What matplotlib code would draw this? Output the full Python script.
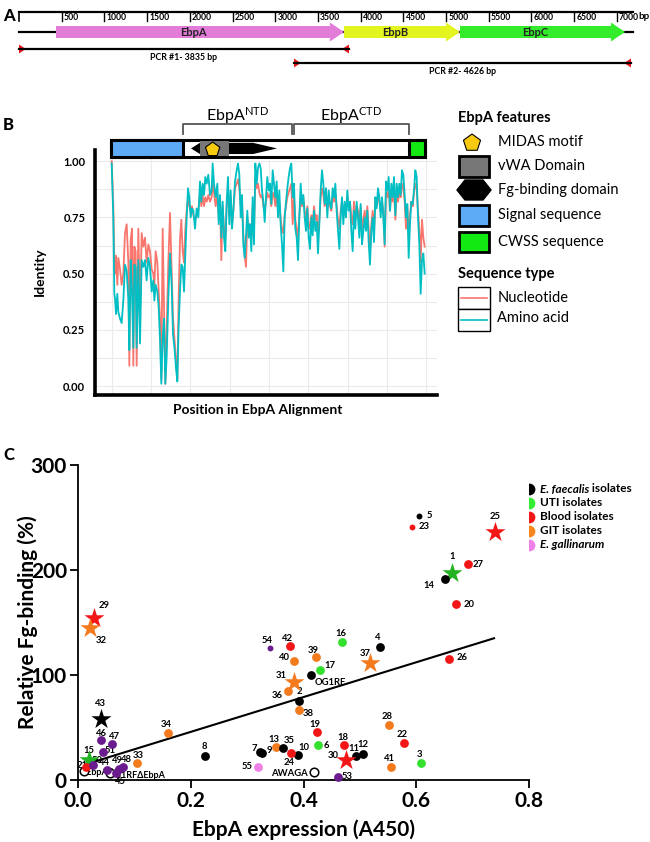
import numpy as np
import matplotlib.pyplot as plt
from matplotlib.patches import Polygon, Rectangle

plt.rcParams['font.family'] = ['Lato', 'DejaVu Sans']
plt.rcParams['mathtext.default'] = 'regular'

W, H = 650, 842

# ---------------- panel A: ebp locus (bp) ----------------
ruler_ticks = [500, 1000, 1500, 2000, 2500, 3000, 3500, 4000, 4500, 5000, 5500, 6000, 6500, 7000]
locus_end = 7190
genes = ["EbpA", "EbpB", "EbpC"]
gene_start = [433, 3806, 5164]
gene_end = [3806, 5164, 7096]
gene_colors = ["#E37BD8", "#E4F41F", "#35EC2C"]
pcr_names = ["PCR #1- 3835 bp", "PCR #2- 4626 bp"]
pcr_start = [0, 3220]
pcr_end = [3864, 7166]

# ---------------- panel B: identity along alignment ----------------
aln_pos = [
    35, 40, 43, 45, 48, 52, 55, 60, 65, 70,
    75, 80, 85, 88, 92, 96, 100, 103, 107, 110,
    115, 120, 125, 130, 135, 140, 145, 150, 155, 160,
    163, 167, 172, 176, 180, 184, 188, 192, 196, 200,
    205, 210, 215, 219, 224, 228, 232, 236, 240, 244,
    248, 252, 256, 260, 264, 268, 272, 276, 280, 285,
    290, 295, 300, 304, 308, 312, 316, 320, 325, 330,
    335, 338, 342, 347, 352, 356, 360, 364, 368, 372,
    376, 380, 384, 388, 392, 396, 400, 405, 410, 414,
    418, 422, 426, 430, 434, 438, 442, 446, 450, 454,
    458, 462, 466, 470, 474, 478, 482, 486, 490, 494,
    498, 502, 506, 510, 514, 518, 522, 526, 530, 534,
    538, 542, 546, 550, 554, 558, 562, 566, 570, 574,
    578, 582, 586, 590, 594, 598, 602, 606, 610, 614,
    618, 622, 626, 630, 634, 638, 642, 646, 650, 654,
    658, 662, 666, 670, 674, 678, 682, 686, 690, 694,
    698, 702, 706, 710, 714, 718, 722, 726, 730, 734,
    738, 742, 746, 750, 754, 758, 762, 766, 770, 774,
    778, 782, 786, 790, 794, 798, 802, 806, 810, 814,
    818, 822, 826, 830, 834, 838, 842, 846, 850, 854,
    858, 862, 866, 870, 874, 878, 882, 886, 890, 894,
    898, 902, 906, 910, 914, 918, 922, 926, 930, 934,
    938, 942, 946, 950, 954, 958, 962, 966, 970, 974,
]
aa_identity = [
    0.99, 0.75, 0.41, 0.39, 0.32, 0.41, 0.33, 0.30, 0.28, 0.38,
    0.54, 0.51, 0.39, 0.16, 0.56, 0.42, 0.17, 0.54, 0.53, 0.17,
    0.56, 0.19, 0.56, 0.53, 0.56, 0.47, 0.57, 0.53, 0.42, 0.47,
    0.38, 0.45, 0.42, 0.35, 0.21, 0.01, 0.21, 0.30, 0.01, 0.13,
    0.39, 0.59, 0.45, 0.23, 0.16, 0.08, 0.02, 0.27, 0.42, 0.54,
    0.53, 0.42, 0.59, 0.75, 0.88, 0.84, 0.75, 0.79, 0.78, 0.70,
    0.79, 0.75, 0.91, 0.82, 0.90, 0.85, 0.93, 0.90, 0.94, 0.85,
    0.87, 0.99, 0.90, 0.84, 0.90, 0.72, 0.85, 0.66, 0.82, 0.66,
    0.60, 0.82, 0.93, 0.72, 0.87, 0.70, 0.78, 0.91, 0.96, 0.99,
    0.94, 0.75, 0.85, 0.63, 0.57, 0.67, 0.78, 0.66, 0.72, 0.60,
    0.84, 0.63, 0.99, 0.90, 0.97, 0.99, 0.97, 0.87, 0.82, 0.73,
    0.84, 0.93, 0.87, 0.90, 0.81, 0.96, 0.90, 0.84, 0.91, 0.75,
    0.87, 0.72, 0.63, 0.51, 0.75, 0.82, 0.88, 0.93, 0.97, 0.99,
    0.84, 0.90, 0.70, 0.66, 0.56, 0.75, 0.90, 0.81, 0.85, 0.75,
    0.69, 0.79, 0.66, 0.61, 0.75, 0.67, 0.78, 0.69, 0.73, 0.59,
    0.72, 0.87, 0.96, 0.90, 0.81, 0.88, 0.75, 0.87, 0.81, 0.79,
    0.88, 0.84, 0.90, 0.78, 0.69, 0.61, 0.75, 0.84, 0.72, 0.82,
    0.75, 0.87, 0.78, 0.82, 0.69, 0.60, 0.78, 0.70, 0.82, 0.75,
    0.66, 0.81, 0.63, 0.69, 0.75, 0.69, 0.78, 0.64, 0.54, 0.69,
    0.75, 0.64, 0.84, 0.79, 0.88, 0.84, 0.75, 0.84, 0.75, 0.63,
    0.91, 0.87, 0.93, 0.78, 0.90, 0.84, 0.93, 0.76, 0.90, 0.84,
    0.90, 0.85, 0.96, 0.94, 0.85, 0.75, 0.81, 0.57, 0.72, 0.82,
    0.81, 0.87, 0.96, 0.93, 0.75, 0.63, 0.41, 0.56, 0.59, 0.50,
]
nt_identity = [
    1.00, 0.80, 0.55, 0.50, 0.58, 0.45, 0.57, 0.52, 0.45, 0.50,
    0.68, 0.72, 0.55, 0.09, 0.65, 0.70, 0.09, 0.62, 0.60, 0.09,
    0.70, 0.32, 0.68, 0.62, 0.66, 0.55, 0.63, 0.60, 0.52, 0.50,
    0.45, 0.60, 0.55, 0.42, 0.30, 0.03, 0.70, 0.35, 0.01, 0.25,
    0.55, 0.77, 0.50, 0.30, 0.20, 0.12, 0.03, 0.40, 0.65, 0.74,
    0.60, 0.55, 0.70, 0.78, 0.83, 0.80, 0.78, 0.80, 0.76, 0.74,
    0.76, 0.78, 0.86, 0.80, 0.85, 0.80, 0.84, 0.82, 0.85, 0.82,
    0.84, 0.90, 0.86, 0.80, 0.85, 0.76, 0.82, 0.56, 0.80, 0.70,
    0.66, 0.80, 0.86, 0.76, 0.84, 0.72, 0.78, 0.88, 0.90, 0.92,
    0.88, 0.80, 0.82, 0.68, 0.58, 0.53, 0.74, 0.70, 0.72, 0.66,
    0.80, 0.70, 0.92, 0.88, 0.90, 0.86, 0.84, 0.85, 0.80, 0.78,
    0.82, 0.86, 0.84, 0.85, 0.80, 0.86, 0.85, 0.80, 0.86, 0.78,
    0.82, 0.74, 0.70, 0.68, 0.76, 0.80, 0.84, 0.86, 0.88, 0.90,
    0.72, 0.84, 0.74, 0.70, 0.66, 0.76, 0.84, 0.80, 0.84, 0.78,
    0.74, 0.80, 0.72, 0.70, 0.76, 0.72, 0.80, 0.74, 0.76, 0.68,
    0.74, 0.84, 0.88, 0.85, 0.80, 0.84, 0.78, 0.84, 0.80, 0.78,
    0.84, 0.82, 0.86, 0.80, 0.74, 0.70, 0.78, 0.82, 0.75, 0.80,
    0.78, 0.84, 0.80, 0.82, 0.75, 0.72, 0.82, 0.74, 0.80, 0.78,
    0.72, 0.80, 0.70, 0.74, 0.78, 0.72, 0.80, 0.70, 0.60, 0.72,
    0.78, 0.68, 0.82, 0.80, 0.85, 0.82, 0.78, 0.82, 0.78, 0.62,
    0.86, 0.84, 0.88, 0.78, 0.86, 0.82, 0.88, 0.74, 0.86, 0.82,
    0.86, 0.84, 0.90, 0.88, 0.82, 0.70, 0.80, 0.66, 0.76, 0.82,
    0.80, 0.86, 0.90, 0.88, 0.78, 0.70, 0.55, 0.74, 0.66, 0.62,
]
grid_pos = [35, 153, 271, 389, 507, 625, 743, 861, 979]

# protein features, same alignment coordinates
bar_span = [32, 975]
signal_span = [32, 248]
cwss_span = [927, 975]
fg_span = [273, 531]
vwa_span = [300, 387]
midas_pos = 338
ntd_span = [248, 577]
ctd_span = [582, 927]

# ---------------- panel C: expression vs Fg binding ----------------
iso_label = ["1", "2", "3", "4", "5", "6", "7", "8", "9", "10",
             "11", "12", "13", "14", "15", "16", "17", "18", "19", "20",
             "21", "22", "23", "24", "25", "26", "27", "28", "29", "30",
             "31", "32", "33", "34", "35", "36", "37", "38", "39", "40",
             "41", "42", "43", "44", "45", "46", "47", "48", "49", "50",
             "51", "53", "54", "55", "OG1RF"]
iso_expr = [0.664, 0.392, 0.609, 0.536, 0.604, 0.425, 0.322, 0.225, 0.327, 0.391,
            0.494, 0.506, 0.352, 0.651, 0.019, 0.469, 0.429, 0.472, 0.424, 0.670,
            0.014, 0.579, 0.592, 0.378, 0.739, 0.658, 0.691, 0.551, 0.029, 0.475,
            0.383, 0.022, 0.104, 0.159, 0.364, 0.372, 0.518, 0.392, 0.423, 0.383,
            0.556, 0.376, 0.040, 0.051, 0.068, 0.040, 0.060, 0.080, 0.072, 0.027,
            0.045, 0.462, 0.341, 0.319, 0.414]
iso_fg = [197.6, 75.6, 16.5, 127.0, 251.7, 33.3, 26.3, 23.2, 26.0, 24.1,
          22.5, 24.8, 31.1, 191.4, 19.0, 131.1, 104.8, 33.3, 45.4, 167.6,
          12.7, 35.6, 241.0, 25.7, 235.9, 114.9, 205.7, 52.4, 154.0, 18.7,
          93.6, 145.0, 16.5, 45.0, 30.5, 84.8, 111.7, 66.7, 117.0, 113.6,
          12.4, 127.3, 58.1, 9.5, 6.5, 37.8, 34.3, 12.0, 10.5, 14.5,
          27.0, 2.9, 126.0, 12.4, 99.7]
iso_group = ["UTI", "Ef", "UTI", "Ef", "Ef", "UTI", "Ef", "Ef", "Ef", "Ef",
             "Ef", "Ef", "GIT", "Ef", "UTI", "UTI", "UTI", "Blood", "Blood", "Blood",
             "Blood", "Blood", "Blood", "Blood", "Blood", "Blood", "Blood", "GIT", "Blood", "Blood",
             "GIT", "GIT", "GIT", "GIT", "Ef", "GIT", "GIT", "GIT", "GIT", "GIT",
             "GIT", "Blood", "Ef", "Other", "Other", "Other", "Other", "Other", "Other", "Other",
             "Other", "Other", "Other", "Egal", "Ef"]
star_isolates = ["1", "15", "25", "29", "30", "31", "32", "37", "43"]
small_isolates = ["5", "23", "54"]
mutant_label = ["ΔEbpABC", "OG1RFΔEbpA", "AWAGA"]
mutant_expr = [0.011, 0.057, 0.419]
mutant_fg = [8.9, 6.3, 7.3]
fit_expr = [0.02, 0.738]
fit_fg = [16.0, 135.0]

legend_groups = ["Ef", "UTI", "Blood", "GIT", "Egal"]
legend_text = [[("E. faecalis", "italic"), (" isolates", "normal")],
               [("UTI isolates", "normal")],
               [("Blood isolates", "normal")],
               [("GIT isolates", "normal")],
               [("E. gallinarum", "italic")]]

group_color = {"Ef": "#000000", "UTI": "#33E02E", "Blood": "#F21616",
               "GIT": "#F47A1E", "Egal": "#EE80E6", "Other": "#6A1B8E"}
star_color = {"Ef": "#000000", "UTI": "#22B322", "Blood": "#F21616", "GIT": "#F47A1E"}
legend_color = {"Ef": "#000000", "UTI": "#33EE33", "Blood": "#F21616",
                "GIT": "#F7861E", "Egal": "#EE80E6"}

fig = plt.figure(figsize=(W / 100, H / 100), dpi=100)

# overlay in pixel coordinates for free text and keys
ov = fig.add_axes([0, 0, 1, 1])
ov.set_xlim(0, W)
ov.set_ylim(H, 0)
ov.axis('off')

# ---------- A ----------
px_per_bp = 0.0854
ax_a = fig.add_axes([0, 1 - 80 / H, 1, 80 / H])
ax_a.set_xlim(-19 / px_per_bp, (W - 19) / px_per_bp)
ax_a.set_ylim(80, 0)
ax_a.axis('off')

ax_a.plot([0, locus_end], [12, 12], color='k', lw=1.6)
ax_a.plot([0, 0], [12, 21], color='k', lw=1.2)
for t in ruler_ticks:
    ax_a.plot([t, t], [12, 21], color='k', lw=1.0)
    ax_a.text(t + 25, 17.5, str(t), weight='bold', fontsize=6.2,
              ha='left', va='center')
ax_a.text(7250, 16.5, "bp", weight='bold', fontsize=7, ha='left', va='center')

ax_a.plot([0, locus_end], [32, 32], color='k', lw=1.6)
for name, s, e, c in zip(genes, gene_start, gene_end, gene_colors):
    hl, hb, hh, y = 165, 6, 9.5, 32
    pts = [(s, y - hb), (e - hl, y - hb), (e - hl, y - hh), (e, y),
           (e - hl, y + hh), (e - hl, y + hb), (s, y + hb)]
    ax_a.add_patch(Polygon(pts, closed=True, facecolor=c, edgecolor='none', zorder=3))
    ax_a.text((s + e - hl) / 2, y, name, weight='bold', fontsize=8,
              ha='center', va='center', color='#222222', zorder=4)

for i, (name, s, e) in enumerate(zip(pcr_names, pcr_start, pcr_end)):
    y = [49, 63][i]
    ax_a.plot([s, e], [y, y], color='k', lw=1.6)
    ax_a.add_patch(Polygon([(s, y - 4.5), (s, y + 4.5), (s + 80, y)], facecolor='#E8151B', edgecolor='none'))
    ax_a.add_patch(Polygon([(e, y - 4.5), (e, y + 4.5), (e - 80, y)], facecolor='#E8151B', edgecolor='none'))
    ax_a.text((s + e) / 2, y + 9, name, weight='bold', fontsize=6.3,
              ha='center', va='center')

ov.text(3, 16, "A", weight='black', fontsize=12, ha='left', va='center')

# ---------- B ----------
ax_b = fig.add_axes([95 / W, 1 - 395 / H, 342 / W, 245 / H])
ax_b.plot(aln_pos, nt_identity, color='#F8766D', lw=1.3, zorder=3)
ax_b.plot(aln_pos, aa_identity, color='#00BFC4', lw=1.3, zorder=4)
ax_b.set_xlim(-15, 1011)
ax_b.set_ylim(-0.04, 1.05)
ax_b.set_xticks(grid_pos)
ax_b.set_xticklabels([])
ax_b.set_yticks([0, 0.25, 0.5, 0.75, 1.0])
ax_b.set_yticklabels(["0.00", "0.25", "0.50", "0.75", "1.00"])
ax_b.set_yticks([0.125, 0.375, 0.625, 0.875], minor=True)
ax_b.tick_params(axis='both', which='both', length=0)
ax_b.tick_params(axis='y', pad=7, labelsize=8)
for lab in ax_b.get_yticklabels():
    lab.set_fontweight('bold')
ax_b.grid(True, which='both', color='#EBEBEB', lw=0.8)
ax_b.set_axisbelow(True)
for sp in ['top', 'right']:
    ax_b.spines[sp].set_visible(False)
for sp in ['left', 'bottom']:
    ax_b.spines[sp].set_linewidth(2.6)

# feature bar above the plot (data x, data y, unclipped)
yb0, yb1 = 1.018, 1.093
ax_b.add_patch(Rectangle((bar_span[0], yb0), bar_span[1] - bar_span[0], yb1 - yb0,
                         facecolor='white', edgecolor='k', lw=2.2, clip_on=False, zorder=5))
ax_b.add_patch(Rectangle((signal_span[0], yb0), signal_span[1] - signal_span[0], yb1 - yb0,
                         facecolor='#5DAAF7', edgecolor='k', lw=2.2, clip_on=False, zorder=6))
ax_b.add_patch(Rectangle((cwss_span[0], yb0), cwss_span[1] - cwss_span[0], yb1 - yb0,
                         facecolor='#12E812', edgecolor='k', lw=2.2, clip_on=False, zorder=6))
ym, yt, ybt = 1.057, 1.082, 1.032
fx0, fx1 = fg_span
ax_b.add_patch(Polygon([(fx0, ym), (vwa_span[0], yt), (459, yt), (fx1, ym), (459, ybt), (vwa_span[0], ybt)],
                       facecolor='k', edgecolor='none', clip_on=False, zorder=6))
ax_b.add_patch(Rectangle((vwa_span[0], yb0 + 0.004), vwa_span[1] - vwa_span[0], yb1 - yb0 - 0.008,
                         facecolor='#777777', edgecolor='none', clip_on=False, zorder=7))
ang = np.deg2rad([90, 162, 234, 306, 18])
r_px = 7.5
ax_b.add_patch(Polygon(np.column_stack([midas_pos + 3 * r_px * np.cos(ang),
                                        1.052 + r_px * np.sin(ang) / 224.8]),
                       facecolor='#F9CB10', edgecolor='k', lw=0.8, clip_on=False, zorder=8))
for (s, e), name in zip([ntd_span, ctd_span], ["NTD", "CTD"]):
    ax_b.plot([s, s, e, e], [1.12, 1.164, 1.164, 1.12], color='#555555', lw=1.3, clip_on=False)
    ax_b.text((s + e) / 2, 1.205, "EbpA$^{%s}$" % name, fontsize=11.5, ha='center',
              va='center', clip_on=False)

ov.text(3, 125, "B", weight='black', fontsize=12, ha='left', va='center')
ov.text(40, 272, "Identity", weight='bold', fontsize=10, rotation=90, ha='center', va='center')
ov.text(258, 410, "Position in EbpA Alignment", weight='bold', fontsize=10, ha='center', va='center')

# feature key
ov.text(458, 118, "EbpA features", weight='bold', fontsize=10.5, ha='left', va='center')
keys_y = [142, 166, 190, 215, 242]
keys_txt = ["MIDAS motif", "vWA Domain", "Fg-binding domain", "Signal sequence", "CWSS sequence"]
pang = np.deg2rad([-90, -18, 54, 126, 198])
ov.add_patch(Polygon(np.column_stack([472 + 9 * np.cos(pang), 143 + 9 * np.sin(pang)]),
                     facecolor='#F9CB10', edgecolor='k', lw=0.8))
ov.add_patch(Rectangle((459, 156), 30, 21, facecolor='#777777', edgecolor='k', lw=2))
ov.add_patch(Polygon([(457, 190), (465, 180), (483, 180), (491, 190), (483, 200), (465, 200)],
                     facecolor='k', edgecolor='k'))
ov.add_patch(Rectangle((459, 205), 30, 21, facecolor='#5DAAF7', edgecolor='k', lw=2))
ov.add_patch(Rectangle((459, 232), 30, 20, facecolor='#12E812', edgecolor='k', lw=2))
for y, t in zip(keys_y, keys_txt):
    ov.text(498, y, t, fontsize=10.5, ha='left', va='center')

ov.text(458, 274, "Sequence type", weight='bold', fontsize=10.5, ha='left', va='center')
ov.add_patch(Rectangle((458, 287), 32, 22, facecolor='white', edgecolor='k', lw=1))
ov.add_patch(Rectangle((458, 309), 32, 22, facecolor='white', edgecolor='k', lw=1))
ov.plot([461, 487], [298, 298], color='#F8766D', lw=1.2)
ov.plot([461, 487], [320, 320], color='#00BFC4', lw=1.2)
ov.text(498, 298, "Nucleotide", fontsize=10.5, ha='left', va='center')
ov.text(497, 318, "Amino acid", fontsize=10.5, ha='left', va='center')

# ---------- C ----------
ax_c = fig.add_axes([78 / W, 1 - 780 / H, 451 / W, 315 / H])
ax_c.set_xlim(0, 0.8)
ax_c.set_ylim(0, 300)
for sp in ['top', 'right']:
    ax_c.spines[sp].set_visible(False)
for sp in ['left', 'bottom']:
    ax_c.spines[sp].set_linewidth(1.3)
ax_c.set_xticks([0, 0.2, 0.4, 0.6, 0.8])
ax_c.set_xticklabels(["0.0", "0.2", "0.4", "0.6", "0.8"])
ax_c.set_yticks([0, 100, 200, 300])
ax_c.tick_params(direction='out', length=6, width=1.3, labelsize=15, pad=2)
for lab in ax_c.get_xticklabels() + ax_c.get_yticklabels():
    lab.set_fontweight('bold')

ax_c.plot(fit_expr, fit_fg, color='k', lw=1.5, zorder=2)

label_offset = {
    "1": (0, -16), "2": (0, -9), "3": (-2, -8), "4": (-2, -9), "5": (11, 0), "6": (9, 0),
    "7": (-5, -4), "8": (0, -9), "9": (7, -2), "10": (5, -7), "11": (-3, -8), "12": (0, -9),
    "13": (-3, -8), "14": (-16, 6), "15": (0, -10), "16": (-2, -9), "17": (10, -4), "18": (-1, -8),
    "19": (-2, -8), "20": (13, 0), "21": (-4, -1), "22": (-2, -8), "23": (12, 0), "24": (-2, 9),
    "25": (0, -16), "26": (13, -2), "27": (11, 0), "28": (-2, -8), "29": (10, -13), "30": (-13, -5),
    "31": (-13, -6), "32": (11, 13), "33": (2, -7), "34": (-1, -8), "35": (6, -7), "36": (-10, 5),
    "37": (-5, -9), "38": (9, 4), "39": (-3, -7), "40": (-9, -3), "41": (-2, -8), "42": (-3, -8),
    "43": (0, -15), "44": (-2, -8), "45": (4, 8), "46": (1, -7), "47": (3, -7), "48": (3, -8),
    "49": (-1, -8), "50": (4, -4), "51": (7, -1), "53": (9, 0), "54": (-3, -7), "55": (-11, 0),
    "OG1RF": (19, 7),
}

for lab, x, y, g in zip(iso_label, iso_expr, iso_fg, iso_group):
    if lab in star_isolates:
        ax_c.scatter([x], [y], marker='*', s=230, color=star_color[g], linewidths=0,
                     clip_on=False, zorder=5)
    else:
        size = 18 if lab in small_isolates else 40
        ax_c.scatter([x], [y], marker='o', s=size, color=group_color[g], linewidths=0,
                     clip_on=False, zorder=5)
    dx, dy = label_offset.get(lab, (0, -9))
    ax_c.annotate(lab, (x, y), xytext=(dx, -dy), textcoords='offset pixels',
                  ha='center', va='center', fontsize=6.8, weight='bold', zorder=4,
                  annotation_clip=False)

ax_c.scatter(mutant_expr, mutant_fg, marker='o', s=38, facecolor='white', edgecolor='k',
             linewidths=1.1, clip_on=False, zorder=4)
for lab, x, y in zip(mutant_label, mutant_expr, mutant_fg):
    if lab == "AWAGA":
        ax_c.annotate(lab, (x, y), xytext=(-6, -1), textcoords='offset pixels', ha='right',
                      va='center', fontsize=6.8, weight='bold', zorder=3)
    else:
        ax_c.annotate(lab, (x, y), xytext=(-3, -2), textcoords='offset pixels', ha='left',
                      va='center', fontsize=6.5, weight='bold', zorder=3, annotation_clip=False)

ov.text(3, 455, "C", weight='black', fontsize=12, ha='left', va='center')
ov.text(105, 500, "r =0.5351", weight='bold', fontsize=11.5, ha='left', va='center')
ov.text(102, 523, "p=<0.0001", weight='bold', fontsize=11.5, ha='left', va='center')
ov.text(28, 622, "Relative Fg-binding (%)", weight='bold', fontsize=15, rotation=90,
        ha='center', va='center')
ov.text(303, 830, "EbpA expression (A450)", weight='bold', fontsize=15, ha='center', va='center')

renderer = fig.canvas.get_renderer()
for i, (g, parts) in enumerate(zip(legend_groups, legend_text)):
    y = 489 + 14 * i
    ov.scatter([529], [y], s=72, color=legend_color[g], linewidths=0)
    x = 540
    for txt, style in parts:
        t = ov.text(x, y, txt, style=style, weight='bold', fontsize=8.5, ha='left', va='center')
        x += t.get_window_extent(renderer=renderer).width

fig.savefig("out.png", dpi=100)
